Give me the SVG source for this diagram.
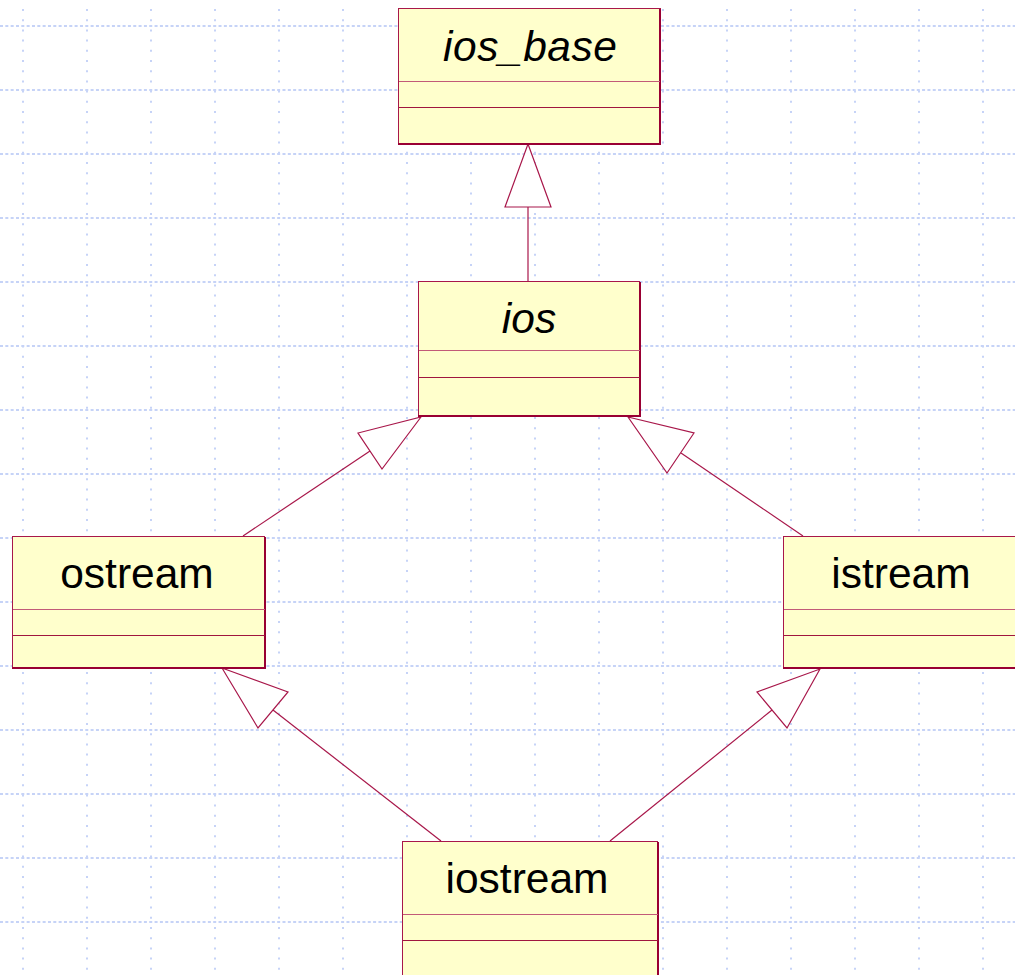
<svg xmlns="http://www.w3.org/2000/svg" width="1015" height="975" viewBox="0 0 1015 975">
  <style>
    .gh { stroke: #c6d3f7; stroke-width: 2; stroke-dasharray: 3 2.33; fill: none; }
    .gv { stroke: #c6d3f7; stroke-width: 2; stroke-dasharray: 2 8.2; fill: none; }
    .box { fill: #ffffcc; stroke: #a8174a; stroke-width: 1; }
    .edge { stroke: #990033; stroke-width: 2; fill: none; }
    .div1 { stroke: #c25a78; stroke-width: 1; }
    .div2 { stroke: #a0163f; stroke-width: 1; }
    .name { font-family: "Liberation Sans", Arial, sans-serif; font-size: 42.5px; fill: #000; text-anchor: middle; }
    .abstract { font-style: italic; }
    .link { stroke: #a8174a; stroke-width: 1.2; fill: none; }
    .head { stroke: #a8174a; stroke-width: 1.2; fill: #ffffff; stroke-linejoin: miter; }
  </style>

  <rect width="1015" height="975" fill="#ffffff"/>

  <!-- background grid, 64px pitch -->
  <g id="grid">
    <path class="gv" d="M23 9V975M87 9V975M151 9V975M215 9V975M279 9V975M343 9V975M407 9V975M471 9V975M535 9V975M599 9V975M663 9V975M727 9V975M791 9V975M855 9V975M919 9V975M983 9V975"/>
    <path class="gh" d="M0 26H1015M0 90H1015M0 154H1015M0 218H1015M0 282H1015M0 346H1015M0 410H1015M0 474H1015M0 538H1015M0 602H1015M0 666H1015M0 730H1015M0 794H1015M0 858H1015M0 922H1015"/>
  </g>

  <!-- generalization connectors -->
  <g id="connectors">
    <path class="link" d="M528 281V207"/>
    <path class="head" d="M528 144L551 207H505Z"/>

    <path class="link" d="M243 536L370 451"/>
    <path class="head" d="M421 417L382 469L358 433Z"/>

    <path class="link" d="M803 536L681 453"/>
    <path class="head" d="M628 417L694 433L667 473Z"/>

    <path class="link" d="M441 841L273 710"/>
    <path class="head" d="M222 668L288 692L258 728Z"/>

    <path class="link" d="M610 841L772 710"/>
    <path class="head" d="M820 669L787 728L757 692Z"/>
  </g>

  <g id="ios_base">
    <rect class="box" x="398.5" y="8.5" width="262" height="136"/>
    <path class="edge" d="M660 9V144H398"/>
    <line class="div1" x1="399" y1="81.5" x2="660" y2="81.5"/>
    <line class="div2" x1="399" y1="107.5" x2="660" y2="107.5"/>
    <text class="name abstract" x="530" y="61" textLength="174" lengthAdjust="spacing">ios_base</text>
  </g>

  <g id="ios">
    <rect class="box" x="418.5" y="281.5" width="221" height="134"/>
    <path class="edge" d="M640 282V416H418"/>
    <line class="div1" x1="419" y1="350.5" x2="640" y2="350.5"/>
    <line class="div2" x1="419" y1="377.5" x2="640" y2="377.5"/>
    <text class="name abstract" x="529" y="333">ios</text>
  </g>

  <g id="ostream">
    <rect class="box" x="12.5" y="536.5" width="252" height="131"/>
    <path class="edge" d="M265 537V668H12"/>
    <line class="div1" x1="13" y1="609.5" x2="265" y2="609.5"/>
    <line class="div2" x1="13" y1="635.5" x2="265" y2="635.5"/>
    <text class="name" x="137" y="588">ostream</text>
  </g>

  <g id="istream">
    <rect class="box" x="783.5" y="536.5" width="252" height="131"/>
    <path class="edge" d="M783 668H1036"/>
    <line class="div1" x1="784" y1="609.5" x2="1036" y2="609.5"/>
    <line class="div2" x1="784" y1="635.5" x2="1036" y2="635.5"/>
    <text class="name" x="901" y="588">istream</text>
  </g>

  <g id="iostream">
    <rect class="box" x="402.5" y="841.5" width="255" height="150"/>
    <path class="edge" d="M658 842V992"/>
    <line class="div1" x1="403" y1="914.5" x2="658" y2="914.5"/>
    <line class="div2" x1="403" y1="940.5" x2="658" y2="940.5"/>
    <text class="name" x="527" y="893">iostream</text>
  </g>
</svg>
